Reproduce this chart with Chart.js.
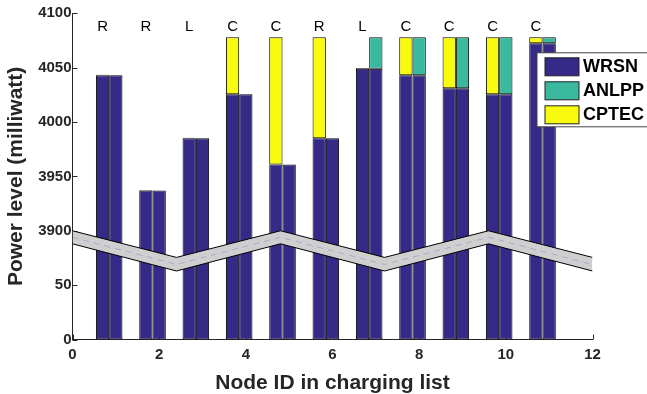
<!DOCTYPE html>
<html>
<head>
<meta charset="utf-8">
<script src="https://cdn.jsdelivr.net/npm/chart.js@4/dist/chart.umd.min.js"></script>
<style>
  html, body { margin: 0; padding: 0; background: #fff; }
  #wrap { width: 647px; height: 394px; }
</style>
</head>
<body>
<div id="wrap"><canvas id="c" width="647" height="394"></canvas></div>
<script>
// node positions along x and the policy letter printed above each group
const nodes = [1, 2, 3, 4, 5, 6, 7, 8, 9, 10, 11];
const policies = ['R', 'R', 'L', 'C', 'C', 'R', 'L', 'C', 'C', 'C', 'C'];

// power level after WRSN, and what CPTEC / ANLPP add on top (milliwatt)
const wrsn = [4043, 3937, 3985, 4025.5, 3961, 3985, 4049, 4043, 4031, 4025.5, 4072.5];
const cptecGain = [0.6, 0.6, 0.6, 52.5, 117, 93, 0.6, 35, 47, 52.5, 5.5];
const anlppGain = [0, 0, 0, 0, 0, 0, 29, 35, 47, 52.5, 5.5];

// broken y axis: labels shown at 0, 50, 100, ... on the drawn axis
const yTicks = [0, 50, 3900, 3950, 4000, 4050, 4100];
const breakAt = 100;                       // drawn value where 3900 sits
const skipped = yTicks[2] - breakAt;       // 3800 hidden by the break

// zig-zag break band, in drawn axis units
const breakX = [0, 2.4, 4.8, 7.2, 9.6, 12];
const breakTop = [100, 75.5, 100, 75.5, 100, 75.5];
const breakMid = [94, 69, 94, 69, 94, 69];
const breakBottom = [88, 63, 88, 63, 88, 63];

const NAVY = '#352a87', TEAL = '#3bb99f', YELLOW = '#f9fb0e';
const INK = '#262626';
const FAM = '"Liberation Sans", Arial, Helvetica, sans-serif';
Chart.defaults.font.family = FAM;

const pts = arr => nodes.map((x, i) => ({ x, y: arr[i] }));
const lvl = wrsn.map(v => v - skipped);
const band = arr => breakX.map((x, i) => ({ x, y: arr[i] }));

const barStyle = { borderColor: '#000', borderWidth: 1, borderSkipped: false, order: 1 };

const legendRows = [['WRSN', NAVY], ['ANLPP', TEAL], ['CPTEC', YELLOW]];

const innerTicks = {
  id: 'innerTicks',
  beforeDatasetsDraw(chart) {
    const { ctx, chartArea: a, scales: { x, y } } = chart;
    ctx.save();
    ctx.strokeStyle = INK;
    ctx.lineWidth = 1;
    ctx.beginPath();
    y.ticks.forEach(t => {
      const p = Math.round(y.getPixelForValue(t.value)) + 0.5;
      ctx.moveTo(a.left, p); ctx.lineTo(a.left + 5, p);
    });
    x.ticks.forEach(t => {
      const p = Math.round(x.getPixelForValue(t.value)) + 0.5;
      ctx.moveTo(p, a.bottom); ctx.lineTo(p, a.bottom - 5);
    });
    ctx.stroke();
    ctx.restore();
  }
};

const policyLabels = {
  id: 'policyLabels',
  afterDatasetsDraw(chart) {
    const { ctx, chartArea: a } = chart;
    const meta = chart.getDatasetMeta(0);
    ctx.save();
    ctx.fillStyle = '#000';
    ctx.font = '15px ' + FAM;
    ctx.textAlign = 'center';
    ctx.textBaseline = 'middle';
    meta.data.forEach((bar, i) => ctx.fillText(policies[i], bar.x, a.top + 13.5));
    ctx.restore();
  }
};

const boxLegend = {
  id: 'boxLegend',
  afterDraw(chart) {
    const { ctx, chartArea: a } = chart;
    const left = a.right - 55.5, top = a.top + 39.5;
    ctx.save();
    ctx.fillStyle = '#fff';
    ctx.fillRect(left, top, 120, 74);
    ctx.strokeStyle = '#444';
    ctx.lineWidth = 1;
    ctx.strokeRect(left, top, 120, 74);
    ctx.font = 'bold 18px ' + FAM;
    ctx.textBaseline = 'middle';
    legendRows.forEach(([name, col], i) => {
      const y0 = top + 5 + i * 24;
      ctx.fillStyle = col;
      ctx.fillRect(left + 8, y0, 34, 18);
      ctx.strokeStyle = '#222';
      ctx.strokeRect(left + 8, y0, 34, 18);
      ctx.fillStyle = '#000';
      ctx.fillText(name, left + 46, y0 + 9.5);
    });
    ctx.restore();
  }
};

new Chart(document.getElementById('c'), {
  type: 'bar',
  data: {
    datasets: [
      { label: 'WRSN', data: pts(lvl), stack: 'cp', backgroundColor: NAVY, ...barStyle },
      { label: 'CPTEC', data: pts(cptecGain), stack: 'cp', backgroundColor: YELLOW, ...barStyle },
      { label: 'WRSN', data: pts(lvl), stack: 'an', backgroundColor: NAVY, ...barStyle },
      { label: 'ANLPP', data: pts(anlppGain), stack: 'an', backgroundColor: TEAL, ...barStyle },
      { label: '', data: pts(nodes.map(() => 0)), stack: 'pad', backgroundColor: 'rgba(0,0,0,0)', borderWidth: 0, order: 1 },
      { type: 'line', data: band(breakTop), stack: 'b1', borderColor: '#000', borderWidth: 1,
        backgroundColor: '#cfcfcf', fill: '+1', pointRadius: 0, tension: 0, order: 0 },
      { type: 'line', data: band(breakBottom), stack: 'b2', borderColor: '#000', borderWidth: 1,
        fill: false, pointRadius: 0, tension: 0, order: -1 },
      { type: 'line', data: band(breakMid), stack: 'b3', borderColor: 'rgba(140,140,200,0.55)', borderWidth: 1,
        borderDash: [6, 5], fill: false, pointRadius: 0, tension: 0, order: -1 }
    ]
  },
  options: {
    responsive: false,
    animation: false,
    categoryPercentage: 0.92,
    barPercentage: 1.0,
    layout: { padding: { left: 0, right: 54.5, top: 13.3, bottom: 0 } },
    plugins: { legend: { display: false }, tooltip: { enabled: false } },
    scales: {
      x: {
        type: 'linear', min: 0, max: 12, offset: false, stacked: true,
        grid: { display: false, offset: false, drawTicks: false },
        border: { color: INK, width: 1 },
        ticks: { stepSize: 2, padding: 6, color: INK, font: { size: 15, weight: 'bold' } },
        title: { display: true, text: 'Node ID in charging list', color: INK,
                 font: { size: 21, weight: 'bold', lineHeight: 1.0 }, padding: { top: 0, bottom: 0 } },
        afterFit(s) { s.height = 54.5; }
      },
      y: {
        min: 0, max: 300, stacked: true,
        grid: { display: false, drawTicks: false },
        border: { color: INK, width: 1 },
        ticks: { stepSize: 50, padding: 1, color: INK, font: { size: 15, weight: 'bold' },
                 callback: v => yTicks[Math.round(v / 50)] },
        title: { display: true, text: 'Power level (milliwatt)', color: INK,
                 font: { size: 21, weight: 'bold' }, padding: { top: 3.5, bottom: 0 } },
        afterFit(s) { s.width = 72.5; }
      }
    }
  },
  plugins: [innerTicks, policyLabels, boxLegend]
});
</script>
</body>
</html>
